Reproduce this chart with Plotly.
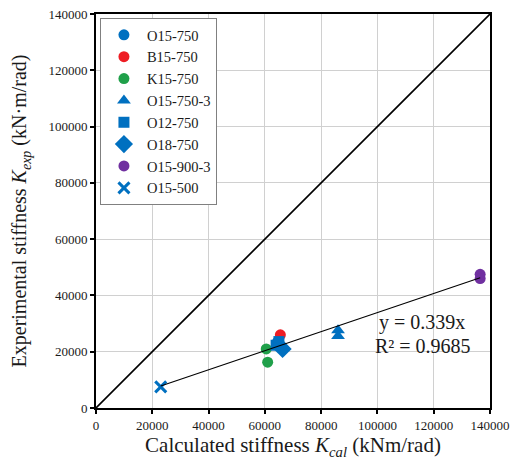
import numpy as np
import plotly.graph_objects as go

# ---- data ----
series_names = ["O15-750", "B15-750", "K15-750", "O15-750-3", "O12-750", "O18-750", "O15-900-3", "O15-500"]
o15_750_x = [64500]
o15_750_y = [23500]
b15_750_x = [65500]
b15_750_y = [26000]
k15_750_x = [60500, 61000]
k15_750_y = [21000, 16300]
o15_750_3_x = [86000, 86000]
o15_750_3_y = [27600, 25600]
o12_750_x = [64000, 65000]
o12_750_y = [22300, 23600]
o18_750_x = [66300]
o18_750_y = [21000]
o15_900_3_x = [136500, 136500]
o15_900_3_y = [47500, 46000]
o15_500_x = [23000]
o15_500_y = [7500]

trend_slope = 0.339
trend_r2 = "0.9685"
axis_ticks = [0, 20000, 40000, 60000, 80000, 100000, 120000, 140000]

BLUE = "#0070C0"
RED = "#EE1D24"
GREEN = "#20A04A"
PURPLE = "#7030A0"

styles = [
    (o15_750_x, o15_750_y, BLUE, "circle", 11),
    (b15_750_x, b15_750_y, RED, "circle", 11),
    (k15_750_x, k15_750_y, GREEN, "circle", 11),
    (o15_750_3_x, o15_750_3_y, BLUE, "triangle-up", 12),
    (o12_750_x, o12_750_y, BLUE, "square", 11),
    (o18_750_x, o18_750_y, BLUE, "diamond", 14),
    (o15_900_3_x, o15_900_3_y, PURPLE, "circle", 11),
    (o15_500_x, o15_500_y, BLUE, "x-thin", 11),
]

FONT = "Liberation Serif"
TXT = "#1a1a1a"

fig = go.Figure()

# y = x reference line
fig.add_trace(go.Scatter(x=[axis_ticks[0], axis_ticks[-1]], y=[axis_ticks[0], axis_ticks[-1]],
                         mode="lines", line=dict(color="black", width=1.6),
                         showlegend=False, hoverinfo="skip"))

for name, (xs, ys, col, sym, sz) in zip(series_names, styles):
    marker = dict(color=col, symbol=sym, size=sz)
    if sym == "x-thin":
        marker["line"] = dict(color=col, width=3)
    fig.add_trace(go.Scatter(x=xs, y=ys, mode="markers", name=name, marker=marker))

# linear trendline through origin, spanning the data range
all_x = np.concatenate([o15_750_x, b15_750_x, k15_750_x, o15_750_3_x, o12_750_x,
                        o18_750_x, o15_900_3_x, o15_500_x]).astype(float)
tx = np.array([all_x.min(), all_x.max()])
fig.add_trace(go.Scatter(x=tx, y=trend_slope * tx, mode="lines",
                         line=dict(color="black", width=1.1),
                         showlegend=False, hoverinfo="skip"))

fig.add_annotation(x=100000, y=30300, xref="x", yref="y", xanchor="left", yanchor="middle",
                   text="y = 0.339x", showarrow=False, font=dict(family=FONT, size=20, color=TXT))
fig.add_annotation(x=98300, y=21900, xref="x", yref="y", xanchor="left", yanchor="middle",
                   text="R² = " + trend_r2, showarrow=False, font=dict(family=FONT, size=20, color=TXT))

axis_common = dict(range=[0, 140000], tickvals=axis_ticks, ticktext=[str(t) for t in axis_ticks],
                   showgrid=True, gridcolor="#D0D0D0", gridwidth=1.3,
                   showline=True, linecolor="black", linewidth=2, mirror=True,
                   ticks="outside", ticklen=4, tickcolor="black", tickwidth=1.5,
                   zeroline=False, automargin=False,
                   tickfont=dict(family=FONT, size=13, color=TXT))

fig.update_xaxes(**axis_common,
                 title=dict(text="Calculated stiffness <i>K</i><sub><i>cal</i></sub> (kNm/rad)",
                            font=dict(family=FONT, size=21, color=TXT), standoff=6))
fig.update_yaxes(**axis_common,
                 title=dict(text="Experimental stiffness <i>K</i><sub><i>exp</i></sub> (kN·m/rad)",
                            font=dict(family=FONT, size=20, color=TXT), standoff=16))

fig.update_layout(
    width=511, height=462,
    margin=dict(l=96, r=21, t=14, b=54),
    plot_bgcolor="white", paper_bgcolor="white",
    font=dict(family=FONT, color=TXT),
    legend=dict(x=0.01, y=0.99, xanchor="left", yanchor="top",
                bgcolor="white", bordercolor="#808080", borderwidth=1,
                font=dict(family=FONT, size=14.5, color=TXT),
                itemsizing="trace", itemwidth=36, tracegroupgap=0),
)

fig.write_html("out.html")
